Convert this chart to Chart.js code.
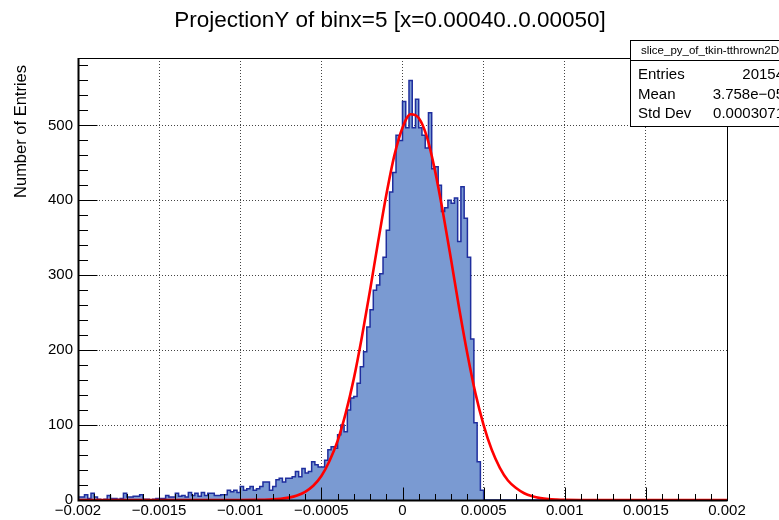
<!DOCTYPE html>
<html>
<head>
<meta charset="utf-8">
<title>ProjectionY of binx=5</title>
<script src="https://cdn.jsdelivr.net/npm/chart.js@4.4.1/dist/chart.umd.min.js"></script>
<style>
  html, body { margin: 0; padding: 0; background: #fff; }
  #wrap { width: 779px; height: 520px; position: relative; }
</style>
</head>
<body>
<div id="wrap"><canvas id="histChart" width="779" height="520"></canvas></div>
<script>
// ProjectionY slice histogram with gaussian fit (ROOT style)

var chartTitle = 'ProjectionY of binx=5 [x=0.00040..0.00050]';
var yAxisTitle = 'Number of Entries';

// 200 bins of width 0.00002 starting at -0.002
var binLow = -0.002;
var binWidth = 0.00002;
var counts = [
    4, 4, 7, 2, 9, 4, 1, 0, 1, 6,
    2, 2, 1, 2, 9, 4, 4, 5, 5, 7,
    1, 1, 0, 1, 2, 2, 2, 6, 4, 4,
    9, 5, 6, 4, 10, 6, 9, 5, 10, 6,
    9, 9, 6, 6, 7, 7, 13, 11, 13, 10,
    18, 13, 15, 18, 13, 15, 18, 24, 24, 13,
    18, 27, 29, 24, 29, 29, 31, 38, 31, 42,
    36, 38, 51, 47, 44, 44, 53, 67, 71, 69,
    87, 100, 91, 120, 136, 138, 156, 178, 198, 231,
    254, 280, 287, 302, 324, 360, 411, 437, 487, 480,
    532, 497, 560, 497, 535, 497, 487, 470, 517, 442,
    445, 420, 385, 390, 400, 396, 403, 345, 418, 376,
    324, 215, 103, 51, 13, 0, 0, 0, 0, 0,
    0, 0, 0, 0, 0, 0, 0, 0, 0, 0,
    0, 0, 0, 0, 0, 0, 0, 0, 0, 0,
    0, 0, 0, 0, 0, 0, 0, 0, 0, 0,
    0, 0, 0, 0, 0, 0, 0, 0, 0, 0,
    0, 0, 0, 0, 0, 0, 0, 0, 0, 0,
    0, 0, 0, 0, 0, 0, 0, 0, 0, 0,
    0, 0, 0, 0, 0, 0, 0, 0, 0, 0
];

// gaussian fit curve
var fitX = [-0.002, -0.0012, -0.001, -0.0009, -0.00085, -0.0008, -0.00075, -0.0007, -0.00065, -0.0006,
    -0.00055, -0.0005, -0.00045, -0.0004, -0.00035, -0.0003, -0.00025, -0.0002, -0.00015, -0.0001,
    -0.00005, 0, 0.00005, 0.0001, 0.00015, 0.0002, 0.00025, 0.0003, 0.00035, 0.0004,
    0.00045, 0.0005, 0.00055, 0.0006, 0.00065, 0.0007, 0.00075, 0.0008, 0.00085, 0.0009,
    0.00095, 0.001, 0.0012, 0.0015, 0.002];
var fitY = [0, 0, 0, 0.2, 0.4, 0.8, 1.6, 3.2, 6.1, 11,
    19, 32, 52, 79, 116, 162, 218, 280, 345, 407,
    460, 497, 515, 510, 485, 440, 383, 320, 255, 195,
    142, 100, 67, 43, 26, 16, 9, 5, 2.5, 1.2,
    0.6, 0.3, 0, 0, 0];

var xTickValues = [-0.002, -0.0015, -0.001, -0.0005, 0, 0.0005, 0.001, 0.0015, 0.002];
var xTickLabels = ['\u22120.002', '\u22120.0015', '\u22120.001', '\u22120.0005', '0', '0.0005', '0.001', '0.0015', '0.002'];
var yTickValues = [0, 100, 200, 300, 400, 500];
var yTickLabels = ['0', '100', '200', '300', '400', '500'];

var statsTitle = 'slice_py_of_tkin-tthrown2D';
var statsNames = ['Entries', 'Mean', 'Std Dev'];
var statsValues = ['20154', '3.758e\u221205', '0.0003071'];

var FONT = "'Liberation Sans', Arial, Helvetica, sans-serif";

// title and y axis title placed the way ROOT puts them
var titlesPlugin = {
    id: 'rootTitles',
    afterDraw: function(chart) {
        var ctx = chart.ctx;
        ctx.save();
        ctx.fillStyle = '#000';
        ctx.font = '22.5px ' + FONT;
        ctx.textAlign = 'center';
        ctx.textBaseline = 'middle';
        ctx.fillText(chartTitle, 390, 21);
        ctx.translate(21, 65);
        ctx.rotate(-Math.PI / 2);
        ctx.font = '16.5px ' + FONT;
        ctx.textAlign = 'right';
        ctx.fillText(yAxisTitle, 0, 0);
        ctx.restore();
    }
};

// inner ticks and frame (drawn over the histogram like ROOT does)
var frameTicksPlugin = {
    id: 'frameTicks',
    afterDatasetsDraw: function(chart) {
        var ctx = chart.ctx;
        var area = chart.chartArea;
        var xs = chart.scales.x;
        var ys = chart.scales.y;
        var left = Math.round(area.left) + 0.5;
        var bottom = Math.round(area.bottom) + 0.5;
        ctx.save();
        ctx.strokeStyle = '#000';
        ctx.lineWidth = 1;
        ctx.beginPath();
        var v, px, py, major;
        // x ticks: major every 0.0005, minor every 0.0001
        for (var i = 0; i <= 40; i++) {
            v = -0.002 + i * 0.0001;
            px = Math.round(xs.getPixelForValue(v)) + 0.5;
            major = (i % 5 === 0);
            ctx.moveTo(px, bottom);
            ctx.lineTo(px, bottom - (major ? 13 : 6.5));
        }
        // y ticks: major every 100, minor every 20
        for (var j = 0; j * 20 <= ys.max; j++) {
            v = j * 20;
            py = Math.round(ys.getPixelForValue(v)) + 0.5;
            major = (j % 5 === 0);
            ctx.moveTo(left, py);
            ctx.lineTo(left + (major ? 19 : 9.5), py);
        }
        ctx.stroke();
        ctx.strokeRect(left, Math.round(area.top) + 0.5,
            Math.round(area.right - area.left), Math.round(area.bottom - area.top));
        // axis lines a bit heavier
        ctx.lineWidth = 2;
        ctx.beginPath();
        ctx.moveTo(left, Math.round(area.top));
        ctx.lineTo(left, bottom);
        ctx.lineTo(Math.round(area.right) + 0.5, bottom);
        ctx.stroke();
        ctx.restore();
    }
};

// statistics box in the top right corner
var statsBoxPlugin = {
    id: 'statsBox',
    afterDraw: function(chart) {
        var ctx = chart.ctx;
        var bx = 630, by = 40, bw = 170, bh = 86;
        ctx.save();
        ctx.fillStyle = '#fff';
        ctx.fillRect(bx, by, bw, bh);
        ctx.strokeStyle = '#000';
        ctx.lineWidth = 1;
        ctx.strokeRect(bx + 0.5, by + 0.5, bw, bh);
        ctx.beginPath();
        ctx.moveTo(bx, by + 20.5);
        ctx.lineTo(bx + bw, by + 20.5);
        ctx.stroke();
        ctx.fillStyle = '#000';
        ctx.textBaseline = 'middle';
        ctx.font = '11.5px ' + FONT;
        ctx.textAlign = 'left';
        ctx.fillText(statsTitle, 641, by + 10.5);
        ctx.font = '15px ' + FONT;
        for (var i = 0; i < statsNames.length; i++) {
            var ry = 75 + i * 19.5;
            ctx.textAlign = 'left';
            ctx.fillText(statsNames[i], 638, ry);
            ctx.textAlign = 'right';
            ctx.fillText(statsValues[i], 784, ry);
        }
        ctx.restore();
    }
};

function buildChart() {
    var canvas = document.getElementById('histChart');
    if (!canvas) return;

    var histPoints = counts.map(function(c, i) {
        return { x: binLow + i * binWidth, y: c };
    });
    histPoints.push({ x: binLow + counts.length * binWidth, y: counts[counts.length - 1] });

    var fitPoints = fitX.map(function(x, i) {
        return { x: x, y: fitY[i] };
    });

    new Chart(canvas.getContext('2d'), {
        type: 'line',
        data: {
            datasets: [{
                label: 'fit',
                data: fitPoints,
                borderColor: '#ff0000',
                borderWidth: 2.6,
                pointRadius: 0,
                fill: false,
                cubicInterpolationMode: 'monotone',
                order: 1
            }, {
                label: 'hist',
                data: histPoints,
                stepped: 'before',
                fill: 'origin',
                backgroundColor: '#7a9ad2',
                borderColor: '#1f2e9e',
                borderWidth: 1.5,
                pointRadius: 0,
                order: 2
            }]
        },
        options: {
            responsive: false,
            animation: false,
            devicePixelRatio: 1,
            layout: { padding: { left: 0, right: 52, top: 58, bottom: 0 } },
            plugins: {
                legend: { display: false },
                tooltip: { enabled: false },
                title: { display: false }
            },
            scales: {
                x: {
                    type: 'linear',
                    min: -0.002,
                    max: 0.002,
                    afterBuildTicks: function(scale) {
                        scale.ticks = xTickValues.map(function(v) { return { value: v }; });
                    },
                    afterFit: function(scale) { scale.height = 20; },
                    ticks: {
                        autoSkip: false,
                        maxRotation: 0,
                        padding: 2,
                        color: '#000',
                        font: { family: FONT, size: 15 },
                        callback: function(value, index) { return xTickLabels[index]; }
                    },
                    grid: { color: '#444', lineWidth: 1, drawTicks: false },
                    border: { display: false, dash: [1, 2] }
                },
                y: {
                    type: 'linear',
                    min: 0,
                    max: 590,
                    afterBuildTicks: function(scale) {
                        scale.ticks = yTickValues.map(function(v) { return { value: v }; });
                    },
                    afterFit: function(scale) { scale.width = 78; },
                    ticks: {
                        padding: 5,
                        color: '#000',
                        font: { family: FONT, size: 15 },
                        callback: function(value, index) { return yTickLabels[index]; }
                    },
                    grid: { color: '#444', lineWidth: 1, drawTicks: false },
                    border: { display: false, dash: [1, 2] }
                }
            }
        },
        plugins: [frameTicksPlugin, titlesPlugin, statsBoxPlugin]
    });
}

document.addEventListener('DOMContentLoaded', function() {
    buildChart();
});
</script>
</body>
</html>
